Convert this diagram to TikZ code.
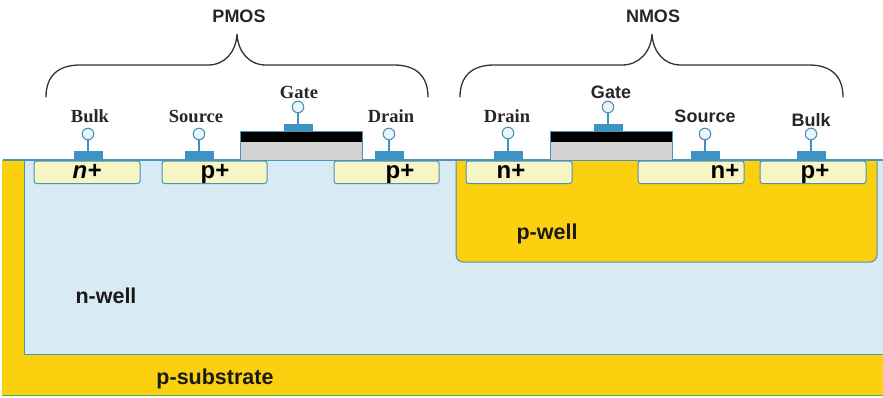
\documentclass[tikz,border=0pt]{standalone}
\usepackage{fontspec}
\setmainfont{Liberation Serif}
\setsansfont{Liberation Sans}
\definecolor{wellblue}{HTML}{D8EAF4}
\definecolor{subyellow}{HTML}{FBD00F}
\definecolor{difpale}{HTML}{F7F5C4}
\definecolor{edgeblue}{HTML}{4A94B4}
\definecolor{padblue}{HTML}{3D93C4}
\definecolor{gategray}{HTML}{D2D2D2}
\definecolor{braceink}{HTML}{333333}
\tikzset{
  difbox/.style={draw=edgeblue,fill=difpale,line width=1pt,rounded corners=2.5pt},
  padbox/.style={draw=none,fill=padblue},
  pinring/.style={circle,draw=edgeblue,fill=wellblue!50,line width=1.1pt,minimum size=11.5pt,inner sep=0pt},
  pinwire/.style={draw=padblue,line width=1.2pt},
  bracepath/.style={draw=braceink,line width=1.3pt,line cap=round},
  serlabel/.style={font=\fontsize{18.5}{20}\selectfont\bfseries,text=black!85},
  sanlabel/.style={font=\fontsize{18}{20}\sffamily\bfseries,text=black!85},
  diflabel/.style={font=\fontsize{24}{26}\sffamily\bfseries,text=black,anchor=base},
  regionlabel/.style={font=\fontsize{21.5}{24}\sffamily\bfseries,text=black!90}
}
\begin{document}
\begin{tikzpicture}[x=1pt,y=-1pt]
\useasboundingbox (0,0) rectangle (883,397);
% substrate and wells
\fill[subyellow] (2,160) rectangle (883,395);
\draw[green!35!gray,line width=1pt] (2,395.5) -- (883,395.5);
\fill[wellblue] (24,160) rectangle (883,354);
\draw[edgeblue,line width=1pt] (883,354) -- (24,354) -- (24,160);
\draw[edgeblue,line width=1.2pt] (3,160) -- (883,160);
\draw[edgeblue,fill=subyellow,line width=1pt,rounded corners=7pt] (456,160) -- (456,262) -- (877,262) -- (877,160);
\draw[edgeblue,line width=1.2pt] (450,160) -- (883,160);
% diffusions
\foreach \x/\w/\tx/\lab in {34/106/87/{\itshape n+},162/105/215/p+,334/105/400/p+,466/106/511/n+,638/106/725/n+,760/106/815/p+}{
  \draw[difbox] (\x,161) rectangle (\x+\w,183.5);
  \node[diflabel] (dif\x) at (\tx,178) {\lab};}
% gates
\foreach \x in {240,550}{
  \fill[gategray] (\x,142) rectangle (\x+122,160);
  \fill[black] (\x,132) rectangle (\x+122,142);
  \draw[edgeblue,line width=1pt] (\x,160) -- (\x,131) -- (\x+122,131) -- (\x+122,160);}
% terminals
\foreach \x/\yp/\yc/\name in {88/151/134/pb,199/151/134/ps,389/151/134/pd,298/124/107/pg,508/151/133/nd,608/124/107/ng,705/151/134/ns,811/151/134/nb}{
  \node[padbox,minimum width=29pt,minimum height={(\yp==151 ? 9 : 7)*1pt},inner sep=0pt] (pad\name) at (\x,{\yp==151 ? 155.5 : 127.5}) {};
  \node[pinring] (pin\name) at (\x,\yc) {};
  \draw[pinwire] (pad\name) -- (pin\name);}
% terminal labels
\node[serlabel] (lbpb) at (90,116) {Bulk};
\node[serlabel] (lbps) at (196,116) {Source};
\node[serlabel] (lbpg) at (299,92) {Gate};
\node[serlabel] (lbpd) at (391,116) {Drain};
\node[serlabel] (lbnd) at (507,116) {Drain};
\node[sanlabel] (lbng) at (611,92) {Gate};
\node[sanlabel] (lbns) at (705,116) {Source};
\node[sanlabel] (lbnb) at (811,120) {Bulk};
% braces
\draw[bracepath] (46,97) .. controls (46,76) and (58,65) .. (80,65) -- (208,65) .. controls (225,65) and (236,52) .. (237,34) .. controls (238,52) and (249,65) .. (266,65) -- (394,65) .. controls (416,65) and (428,76) .. (428,97);
\draw[bracepath] (460,97) .. controls (460,76) and (472,65) .. (494,65) -- (622,65) .. controls (639,65) and (651,52) .. (652,34) .. controls (653,52) and (664,65) .. (681,65) -- (809,65) .. controls (831,65) and (843,76) .. (843,97);
\node[sanlabel] (pmos) at (239,16) {PMOS};
\node[sanlabel] (nmos) at (653,16) {NMOS};
% region names
\node[regionlabel] (pwell) at (547,234) {p-well};
\node[regionlabel] (nwell) at (106,296) {n-well};
\node[regionlabel] (psub) at (215,379) {p-substrate};
\end{tikzpicture}
\end{document}
